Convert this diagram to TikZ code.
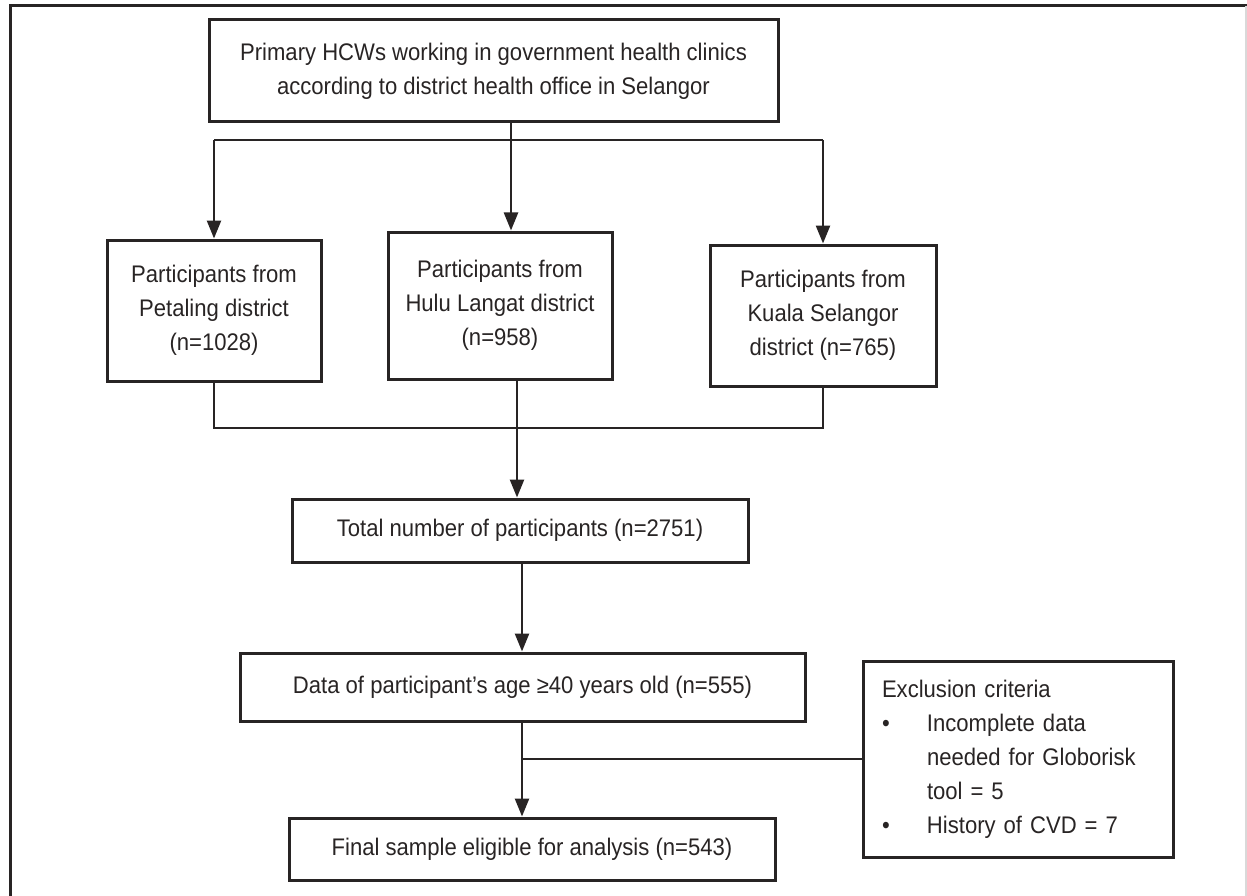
\documentclass[tikz,border=0pt]{standalone}
\usepackage{fontspec}
\setmainfont{Liberation Sans}[FakeStretch=0.92]
\usepackage{tikz}
\usetikzlibrary{arrows.meta}
\usetikzlibrary{positioning}
\definecolor{ink}{RGB}{40,36,36}
\tikzset{
	flowbox/.style = {draw=ink, line width=3pt, rectangle, align=center, text=ink, inner sep=0pt,
		font=\fontsize{24}{34}\selectfont},
	link/.style = {draw=ink, line width=2.5pt},
	linkarrow/.style = {link, -{Triangle[length=18pt,width=14pt]}}
}

\begin{document}
\begin{tikzpicture}[x=1pt, y=-1pt]
\useasboundingbox (0,0) rectangle (1247,896);
% frame
\draw [ink, line width=3pt] (10,896) -- (10,6) -- (1247,6);
\draw [black!15, line width=1.5pt] (1246,6) -- (1246,896);

% boxes
\node [flowbox, minimum width=569pt, minimum height=102pt] (top) at (493.5,71) {Primary HCWs working in government health clinics\\according to district health office in Selangor};
\node [flowbox, minimum width=214pt, minimum height=141pt] (pet) at (214,310.5) {Participants from\\Petaling district\\(n=1028)};
\node [flowbox, minimum width=224pt, minimum height=147pt] (hulu) at (500,305.5) {Participants from\\Hulu Langat district\\(n=958)};
\node [flowbox, minimum width=226pt, minimum height=141pt] (kuala) at (823,315.5) {Participants from\\Kuala Selangor\\district (n=765)};
\node [flowbox, minimum width=456pt, minimum height=63pt] (total) at (520,530.5) {Total number of participants (n=2751)};
\node [flowbox, minimum width=565pt, minimum height=68pt] (age) at (522.5,687) {Data of participant’s age ≥40 years old (n=555)};
\node [flowbox, align=left, text width=272pt, inner xsep=19pt, minimum height=196pt] (excl) at (1018,759) {Exclusion criteria\\
	\makebox[45pt][l]{\textbullet}Incomplete data\\
	\hspace*{45pt}needed for Globorisk\\
	\hspace*{45pt}tool = 5\\
	\makebox[45pt][l]{\textbullet}History of CVD = 7};
\node [flowbox, minimum width=486pt, minimum height=62pt] (final) at (532,849) {Final sample eligible for analysis (n=543)};

% connectors
\coordinate (split) at (511,140);
\coordinate (merge) at (517,428);
\coordinate (cut) at (522,759);
\draw [link] (top.south -| split) -- (split);
\draw [link] (pet.north |- split) -- (kuala.north |- split);
\draw [linkarrow] (split) -- (split |- hulu.north);
\draw [linkarrow] (pet.north |- split) -- (pet.north);
\draw [linkarrow] (kuala.north |- split) -- (kuala.north);
\draw [link] (pet.south) -- (pet.south |- merge) -- (kuala.south |- merge) -- (kuala.south);
\draw [linkarrow] (hulu.south -| merge) -- (merge |- total.north);
\draw [linkarrow] (total.south -| cut) -- (cut |- age.north);
\draw [linkarrow] (age.south -| cut) -- (cut |- final.north);
\draw [link] (cut) -- (excl.west);
\end{tikzpicture}
\end{document}
